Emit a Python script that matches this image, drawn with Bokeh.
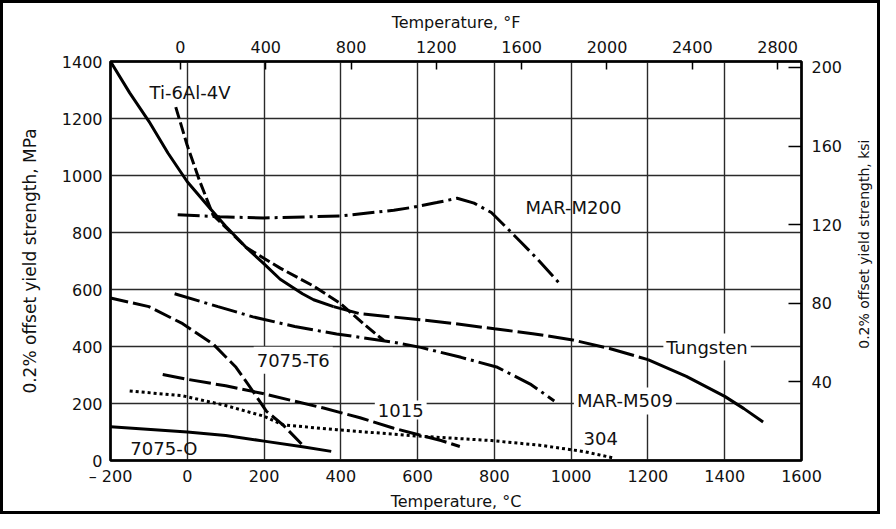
import math
from bokeh.plotting import figure
from bokeh.models import Range1d, LinearAxis, FixedTicker, Label
from bokeh.embed import file_html
from bokeh.resources import INLINE

# ---------------- data ----------------
MPA_PER_KSI = 6.894757

celsius_ticks = [-200, 0, 200, 400, 600, 800, 1000, 1200, 1400, 1600]
mpa_ticks = [0, 200, 400, 600, 800, 1000, 1200, 1400]
fahrenheit_ticks = [0, 400, 800, 1200, 1600, 2000, 2400, 2800]
ksi_ticks = [40, 80, 120, 160, 200]

# Tungsten
w_t = [-200, -150, -100, -50, 0, 59, 100, 153, 200, 242, 300, 329, 381,
       450, 600, 700, 800, 900, 1000, 1100, 1200, 1300, 1400, 1450, 1500]
w_s = [1400, 1290, 1190, 1078, 978, 885, 822, 748, 690, 636, 585, 564, 540,
       515, 495, 480, 462, 445, 424, 393, 354, 295, 225, 182, 135]

# Ti-6Al-4V
ti_t = [-30, 0, 33, 67, 153, 242, 329, 399, 459, 512]
ti_s = [1240, 1105, 978, 862, 748, 675, 612, 551, 480, 421]

# MAR-M200
m200_t = [-25, 85, 198, 399, 538, 590, 650, 703, 747, 792, 834, 870, 912, 969]
m200_s = [862, 855, 851, 858, 878, 889, 905, 920, 903, 870, 814, 765, 707, 622]

# MAR-M509
m509_t = [-33, 80, 171, 280, 389, 538, 608, 713, 808, 896, 956]
m509_s = [585, 540, 504, 470, 444, 415, 397, 362, 327, 266, 209]

# 7075-T6
t6_t = [-200, -100, -12, 67, 127, 171, 206, 250, 302]
t6_s = [570, 540, 480, 409, 327, 243, 173, 124, 52]

# 1015
s1015_t = [-64, 0, 100, 190, 355, 450, 538, 590, 661, 710]
s1015_s = [302, 285, 262, 237, 184, 150, 113, 95, 70, 49]

# 304
s304_t = [-150, -12, 100, 198, 250, 389, 598, 792, 922, 1035, 1113]
s304_s = [244, 227, 193, 156, 125, 108, 86, 70, 53, 31, 8]

# 7075-O
o_t = [-200, 0, 100, 200, 300, 375]
o_s = [118, 100, 88, 68, 48, 32]

# curve labels: text, temperature, strength
label_text = ["Ti-6Al-4V", "MAR-M200", "Tungsten", "MAR-M509", "7075-T6", "1015", "304", "7075-O"]
label_t = [7, 1006, 1354, 1140, 276, 556, 1077, -61]
label_s = [1292, 886, 398, 209, 352, 177, 77, 42]
label_bg = [False, False, True, True, True, True, False, False]

RIGHT_TITLE = "0.2% offset yield strength, ksi"
RIGHT_TITLE_START = 392   # MPa level where the right-hand title text begins


def c2f(c):
    return c * 9.0 / 5.0 + 32.0


FONT = "DejaVu Sans"
INK = "#111111"
BORDER = 3
W, H = 880 - 2 * BORDER, 514 - 2 * BORDER

p = figure(width=W, height=H,
           x_range=Range1d(-200, 1600), y_range=Range1d(0, 1400),
           output_backend="svg", toolbar_location=None,
           min_border_left=107, min_border_right=79,
           min_border_top=58, min_border_bottom=57)
p.extra_x_ranges = {"F": Range1d(c2f(-200), c2f(1600))}
p.extra_y_ranges = {"ksi": Range1d(0, 1400 / MPA_PER_KSI)}
p.styles = {"border": "%dpx solid black" % BORDER, "box-sizing": "content-box"}

p.outline_line_color = "black"
p.outline_line_width = 2.5
p.outline_line_alpha = 1.0
p.background_fill_color = "white"
p.border_fill_color = "white"

# grids
p.xgrid.ticker = FixedTicker(ticks=celsius_ticks)
p.ygrid.ticker = FixedTicker(ticks=mpa_ticks)
for g in (p.xgrid, p.ygrid):
    g.grid_line_color = "#2a2a2a"
    g.grid_line_width = 1.4
    g.grid_line_alpha = 1.0


def style_axis(ax, tick_in=0, tick_out=0, label_standoff=10, axis_standoff=8,
               label_size="17px", tick_size="16px"):
    ax.minor_tick_line_color = None
    ax.major_tick_in = tick_in
    ax.major_tick_out = tick_out
    ax.major_tick_line_color = "black"
    ax.major_tick_line_width = 1.5
    ax.axis_line_color = "black"
    ax.axis_line_width = 2
    ax.major_label_text_font = FONT
    ax.major_label_text_font_size = tick_size
    ax.major_label_text_color = INK
    ax.major_label_standoff = label_standoff
    ax.axis_label_text_font = FONT
    ax.axis_label_text_font_size = label_size
    ax.axis_label_text_font_style = "normal"
    ax.axis_label_text_color = INK
    ax.axis_label_standoff = axis_standoff


# bottom (deg C)
bx = p.xaxis[0]
bx.ticker = FixedTicker(ticks=celsius_ticks)
bx.major_label_overrides = {-200: "\u2013 200"}
bx.axis_label = "Temperature, \u00b0C"
style_axis(bx, label_standoff=6, axis_standoff=3, label_size="16px")

# left (MPa)
ly = p.yaxis[0]
ly.ticker = FixedTicker(ticks=mpa_ticks)
ly.axis_label = "0.2% offset yield strength, MPa"
style_axis(ly, label_standoff=8, axis_standoff=19)

# top (deg F)
top = LinearAxis(x_range_name="F", ticker=FixedTicker(ticks=fahrenheit_ticks),
                 axis_label="Temperature, \u00b0F")
style_axis(top, tick_in=8, label_standoff=9, axis_standoff=6, label_size="16px")
p.add_layout(top, "above")

# right (ksi)
right = LinearAxis(y_range_name="ksi", ticker=FixedTicker(ticks=ksi_ticks))
style_axis(right, tick_in=13, label_standoff=10)
p.add_layout(right, "right")

# right-hand title, read bottom-to-top (as the reference), carried by an outer axis
title_axis = LinearAxis(ticker=FixedTicker(ticks=[RIGHT_TITLE_START]),
                        major_label_overrides={RIGHT_TITLE_START: RIGHT_TITLE})
style_axis(title_axis, label_standoff=19, tick_size="14px")
title_axis.axis_line_color = None
title_axis.major_tick_line_color = None
title_axis.major_label_orientation = math.pi / 2
p.add_layout(title_axis, "right")

LW = 3.0

# Tungsten: solid / long dash / solid
w_a = [(t, s) for t, s in zip(w_t, w_s) if t <= 381]
w_b = [(t, s) for t, s in zip(w_t, w_s) if 381 <= t <= 1200]
w_c = [(t, s) for t, s in zip(w_t, w_s) if t >= 1200]
p.line([a for a, _ in w_a], [b for _, b in w_a], line_color="black", line_width=LW)
p.line([a for a, _ in w_b], [b for _, b in w_b], line_color="black", line_width=LW,
       line_dash="26 5")
p.line([a for a, _ in w_c], [b for _, b in w_c], line_color="black", line_width=LW)

p.line(ti_t, ti_s, line_color="black", line_width=LW, line_dash="12 4")
p.line(m200_t, m200_s, line_color="black", line_width=LW, line_dash="22 5 3 5")
p.line(m509_t, m509_s, line_color="black", line_width=LW, line_dash="26 5 3 5")
p.line(t6_t, t6_s, line_color="black", line_width=LW, line_dash="18 5")
p.line(s1015_t, s1015_s, line_color="black", line_width=LW, line_dash="22 5")
p.line(s304_t, s304_s, line_color="black", line_width=LW, line_dash="3 3")
p.line(o_t, o_s, line_color="black", line_width=LW)

for txt, lt, ls, bg in zip(label_text, label_t, label_s, label_bg):
    lab = Label(x=lt, y=ls, text=txt, text_font=FONT, text_font_size="18px",
                text_color=INK, text_align="center", text_baseline="middle",
                background_fill_color="white" if bg else None,
                padding=3)
    p.add_layout(lab)

open("out.html", "w").write(file_html(p, INLINE))
